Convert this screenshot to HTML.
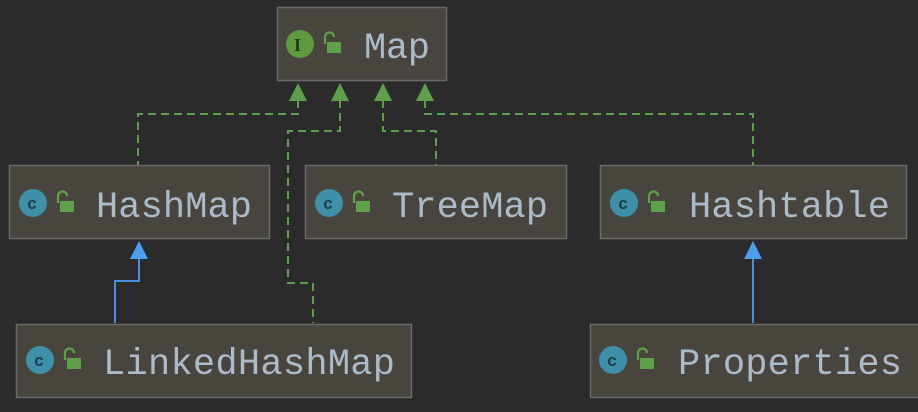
<!DOCTYPE html>
<html><head><meta charset="utf-8"><style>
html,body{margin:0;padding:0;background:#2b2b2b;}
svg{display:block}
text{font-family:"Liberation Mono",monospace;font-size:37px;fill:#adbbc9;}
</style></head><body>
<svg width="918" height="412" viewBox="0 0 918 412">
<rect width="918" height="412" fill="#2b2b2b"/>
<g fill="none" stroke="#5f9e4a" stroke-width="2" stroke-dasharray="8,5">
<polyline points="298,100 298,114 138,114 138,165"/>
<polyline points="340,100 340,131 288,131 288,283 313,283 313,323"/>
<polyline points="383,100 383,131 436,131 436,165"/>
<polyline points="425,100 425,114 753,114 753,165"/>
</g>
<g fill="#5f9e4a">
<polygon points="298,83 289,101 307,101"/>
<polygon points="340,83 331,101 349,101"/>
<polygon points="383,83 374,101 392,101"/>
<polygon points="425,83 416,101 434,101"/>
</g>
<g fill="none" stroke="#4a8fdc" stroke-width="2">
<polyline points="139,258 139,281 115,281 115,323"/>
<polyline points="753,258 753,323"/>
</g>
<g fill="#4a9ef0">
<polygon points="139,241 130,259 148,259"/>
<polygon points="753,241 744,259 762,259"/>
</g>
<g fill="#48453e" stroke="#6b6a66" stroke-width="1.5">
<rect x="277.5" y="7.5" width="169" height="73"/>
<rect x="9.5" y="165.5" width="260" height="73"/>
<rect x="305.5" y="165.5" width="261" height="73"/>
<rect x="600.5" y="165.5" width="306" height="73"/>
<rect x="16.5" y="324.5" width="395" height="73"/>
<rect x="590.5" y="324.5" width="330" height="73"/>
</g>
<defs>
<g id="lock"><path d="M-5,2 v-7 a4.5,4.5 0 0 1 9,0" fill="none" stroke="#5fa04a" stroke-width="2.2"/><rect x="-3" y="0" width="14" height="11" fill="#5fa04a"/></g>
<g id="cls"><circle r="14" fill="#3d90a8"/><text x="-6" y="6" style="font-size:17px;fill:#1f3b4a;font-weight:bold">c</text></g>
</defs>
<circle cx="300" cy="44" r="14" fill="#5c9b3e"/><text x="294" y="51" style="font-size:18px;fill:#243a1c;font-family:'Liberation Serif',serif;font-weight:bold">I</text>
<use href="#lock" x="330" y="42"/>
<text x="364" y="58" textLength="66">Map</text>
<use href="#cls" x="33" y="203"/><use href="#lock" x="63" y="201"/>
<text x="96" y="217" textLength="156">HashMap</text>
<use href="#cls" x="329" y="203"/><use href="#lock" x="359" y="201"/>
<text x="392" y="217" textLength="156">TreeMap</text>
<use href="#cls" x="624" y="203"/><use href="#lock" x="654" y="201"/>
<text x="689" y="217" textLength="201">Hashtable</text>
<use href="#cls" x="40" y="360"/><use href="#lock" x="70" y="358"/>
<text x="103" y="374" textLength="292">LinkedHashMap</text>
<use href="#cls" x="613" y="360"/><use href="#lock" x="643" y="358"/>
<text x="678" y="374" textLength="224">Properties</text>
</svg>
</body></html>
